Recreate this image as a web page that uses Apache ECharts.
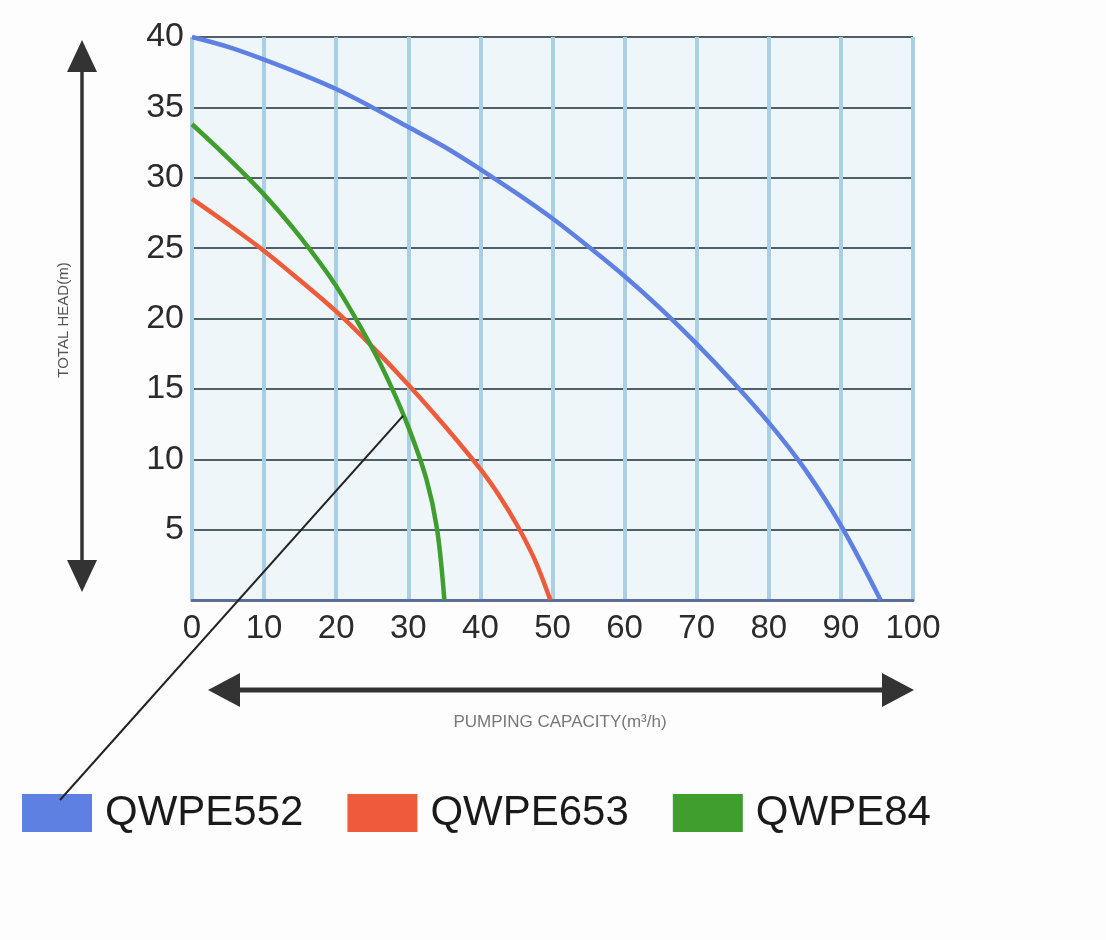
<!DOCTYPE html>
<html><head><meta charset="utf-8">
<script src="https://cdn.jsdelivr.net/npm/echarts@6/dist/echarts.min.js"></script>
<style>html,body{margin:0;padding:0;background:#fdfdfd;}#c{width:1106px;height:940px;}</style>
</head><body><div id="c"></div>
<script>
const seriesNames = ['QWPE552', 'QWPE653', 'QWPE84'];
const qwpe552 = [[0,40],[5,39.3],[10,38.4],[15,37.4],[20,36.3],[25,35.0],[30,33.6],[35,32.2],[40,30.6],[45,28.9],[50,27.1],[55,25.1],[60,23.0],[65,20.7],[70,18.2],[75,15.5],[80,12.6],[85,9.3],[90,5.3],[95.5,0]];
const qwpe653 = [[0,28.5],[5,26.7],[10,24.8],[15,22.7],[20,20.5],[25,18.0],[30,15.3],[35,12.4],[40,9.3],[42.5,7.5],[45,5.4],[47.5,2.9],[49.7,0]];
const qwpe84  = [[0,33.8],[5,31.4],[10,28.8],[15,25.8],[20,22.3],[25,17.9],[27.5,15.3],[30,12.3],[32.5,8.6],[34,5.0],[35,0]];
const xTicks = [0,10,20,30,40,50,60,70,80,90,100];
const yTicks = [5,10,15,20,25,30,35,40];
const yAxisTitle = 'TOTAL HEAD(m)';
const xAxisTitle = 'PUMPING CAPACITY(m³/h)';
const pointerTarget = [29.3, 13.1];

const colors = ['#5d80e2', '#ee5b3a', '#3f9e2e'];
const chart = echarts.init(document.getElementById('c'));
const datasets = [qwpe552, qwpe653, qwpe84];

chart.setOption({
  animation: false,
  backgroundColor: '#fdfdfd',
  grid: { left: 192, right: 193, top: 37, bottom: 340, show: true, backgroundColor: '#eef6f9', borderWidth: 0 },
  xAxis: {
    type: 'value', min: 0, max: 100, interval: 10,
    axisLine: { show: true, lineStyle: { color: '#5a6e96', width: 3 } },
    axisTick: { show: false },
    axisLabel: { fontSize: 33, color: '#2b2b2b', fontFamily: 'Liberation Sans', margin: 12,
      formatter: v => xTicks.includes(v) ? String(v) : '' },
    splitLine: { show: true, lineStyle: { color: '#a8cfe6', width: 4 } }
  },
  yAxis: {
    type: 'value', min: 0, max: 40, interval: 5,
    axisLine: { show: false },
    axisTick: { show: false },
    axisLabel: { fontSize: 34, color: '#2b2b2b', fontFamily: 'Liberation Sans', margin: 8,
      formatter: v => yTicks.includes(v) ? String(v) : '' },
    splitLine: { show: true, lineStyle: { color: '#4f6068', width: 2 } }
  },
  legend: {
    left: 22, top: 792, padding: 0, icon: 'rect', itemWidth: 70, itemHeight: 38, itemGap: 44,
    textStyle: { fontSize: 42, color: '#1a1a1a', fontFamily: 'Liberation Sans', padding: [0,0,0,8] },
    data: seriesNames
  },
  series: datasets.map((d, i) => ({
    name: seriesNames[i], type: 'line', smooth: 0.35, showSymbol: false, data: d,
    lineStyle: { color: colors[i], width: 4.5 }, itemStyle: { color: colors[i] }
  }))
});

const tip = chart.convertToPixel({ gridIndex: 0 }, pointerTarget);
const arrowColor = '#333';
chart.setOption({
  graphic: [
    { type: 'line', shape: { x1: 60, y1: 800, x2: tip[0], y2: tip[1] }, style: { stroke: '#222', lineWidth: 2 }, z: 100 },
    { type: 'line', shape: { x1: 82, y1: 60, x2: 82, y2: 572 }, style: { stroke: arrowColor, lineWidth: 3.5 } },
    { type: 'polygon', shape: { points: [[82, 40], [67, 72], [97, 72]] }, style: { fill: arrowColor } },
    { type: 'polygon', shape: { points: [[82, 592], [67, 560], [97, 560]] }, style: { fill: arrowColor } },
    { type: 'line', shape: { x1: 230, y1: 690, x2: 890, y2: 690 }, style: { stroke: arrowColor, lineWidth: 5 } },
    { type: 'polygon', shape: { points: [[208, 690], [240, 673], [240, 707]] }, style: { fill: arrowColor } },
    { type: 'polygon', shape: { points: [[914, 690], [882, 673], [882, 707]] }, style: { fill: arrowColor } },
    { type: 'text', x: 64, y: 320, rotation: Math.PI / 2, style: { text: yAxisTitle, fontSize: 15, fill: '#555', fontFamily: 'Liberation Sans', align: 'center', verticalAlign: 'middle' } },
    { type: 'text', x: 560, y: 722, style: { text: xAxisTitle, fontSize: 17, fill: '#777', fontFamily: 'Liberation Sans', align: 'center', verticalAlign: 'middle' } }
  ]
});
</script></body></html>
